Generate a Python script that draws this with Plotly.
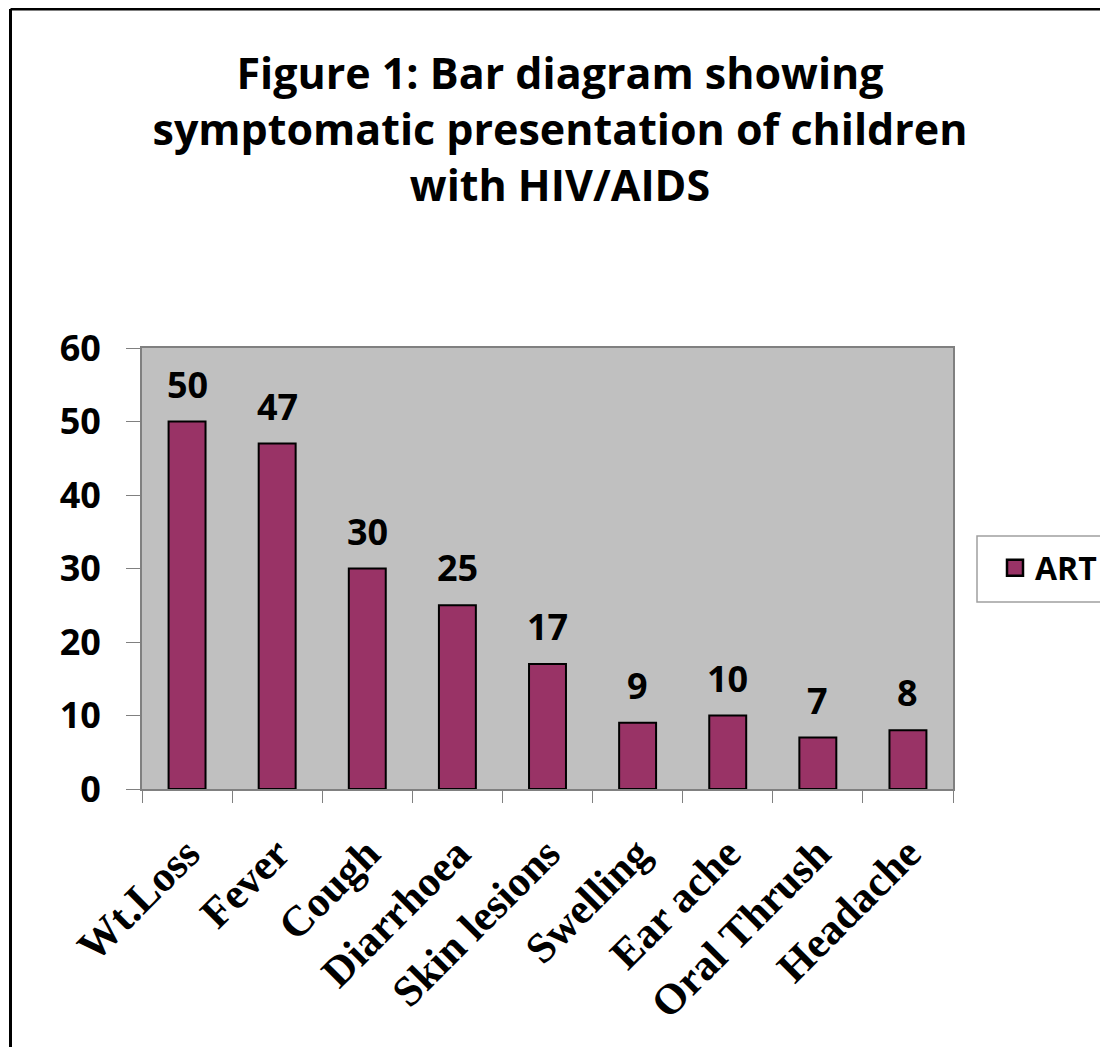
import plotly.graph_objects as go

categories = ["Wt.Loss", "Fever", "Cough", "Diarrhoea", "Skin lesions",
              "Swelling", "Ear ache", "Oral Thrush", "Headache"]
values = [50, 47, 30, 25, 17, 9, 10, 7, 8]
series_name = "ART"
title_lines = ["Figure 1: Bar diagram showing",
               "symptomatic presentation of children",
               "with HIV/AIDS"]

OFF = 8  # page body margin
W, H = 1108 - OFF, 1047 - OFF
PL, PR, PT, PB = 142 - OFF, 953 - OFF, 348 - OFF, 789 - OFF  # plot area (figure px)
L, R, T, B = PL, W - PR, PT, H - PB
pw, ph = PR - PL, PB - PT

def px_x(rx):
    return (rx - OFF - PL) / pw

def px_y(ry):
    return (PB - (ry - OFF)) / ph

BAR = "#993366"
GREY = "#808080"
SANS = "Open Sans"
SERIF = "Liberation Serif"

fig = go.Figure()
fig.add_trace(go.Bar(
    x=categories, y=values, name=series_name,
    marker=dict(color=BAR, line=dict(color="black", width=2)),
    showlegend=False,
))
fig.add_trace(go.Scatter(
    x=[None], y=[None], mode="markers", name=series_name,
    marker=dict(symbol="square", size=20, color=BAR,
                line=dict(color="black", width=2.5)),
    showlegend=True,
))

for c, v in zip(categories, values):
    fig.add_annotation(x=c, y=v, text=str(v), showarrow=False,
                       yanchor="bottom", yshift=11,
                       font=dict(family=SANS, size=36, color="black", weight="bold"))

# outer frame (left and top edges visible)
fig.add_shape(type="line", xref="paper", yref="paper",
              x0=px_x(10.5), x1=px_x(1120), y0=px_y(9), y1=px_y(9),
              line=dict(color="black", width=3))
fig.add_shape(type="line", xref="paper", yref="paper",
              x0=px_x(10.5), x1=px_x(10.5), y0=px_y(9), y1=px_y(1060),
              line=dict(color="black", width=3))
# legend frame
fig.add_shape(type="rect", xref="paper", yref="paper",
              x0=px_x(977), x1=px_x(1120), y0=px_y(602), y1=px_y(536),
              line=dict(color="#a0a0a0", width=1.5), fillcolor="rgba(0,0,0,0)")

fig.update_layout(
    width=W, height=H,
    margin=dict(l=L, r=R, t=T, b=B, autoexpand=False),
    paper_bgcolor="white", plot_bgcolor="#C0C0C0",
    bargap=0.59,
    title=dict(text="<br>".join(title_lines), x=(560 - OFF) / W, xanchor="center",
               y=1 - 81 / H, yanchor="top",
               font=dict(family=SANS, size=43, color="black", weight="bold")),
    legend=dict(x=px_x(995), xanchor="left", y=px_y(568), yanchor="middle",
                bgcolor="rgba(0,0,0,0)", borderwidth=0,
                font=dict(family=SANS, size=32, color="black", weight="bold")),
    xaxis=dict(type="category", tickson="boundaries", ticks="outside",
               ticklen=12, tickcolor=GREY, tickwidth=1,
               showline=True, linecolor=GREY, linewidth=2, mirror=True,
               showgrid=False, tickangle=-45, ticklabelstandoff=20,
               tickfont=dict(family=SERIF, size=43, color="black", weight="bold")),
    yaxis=dict(range=[0, 60], dtick=10, ticks="outside", ticklen=14,
               tickcolor=GREY, tickwidth=1, showline=True, linecolor=GREY,
               linewidth=2, mirror=True, showgrid=False, zeroline=False,
               ticklabelstandoff=18,
               tickfont=dict(family=SANS, size=36, color="black", weight="bold")),
)

fig.write_html("out.html")
